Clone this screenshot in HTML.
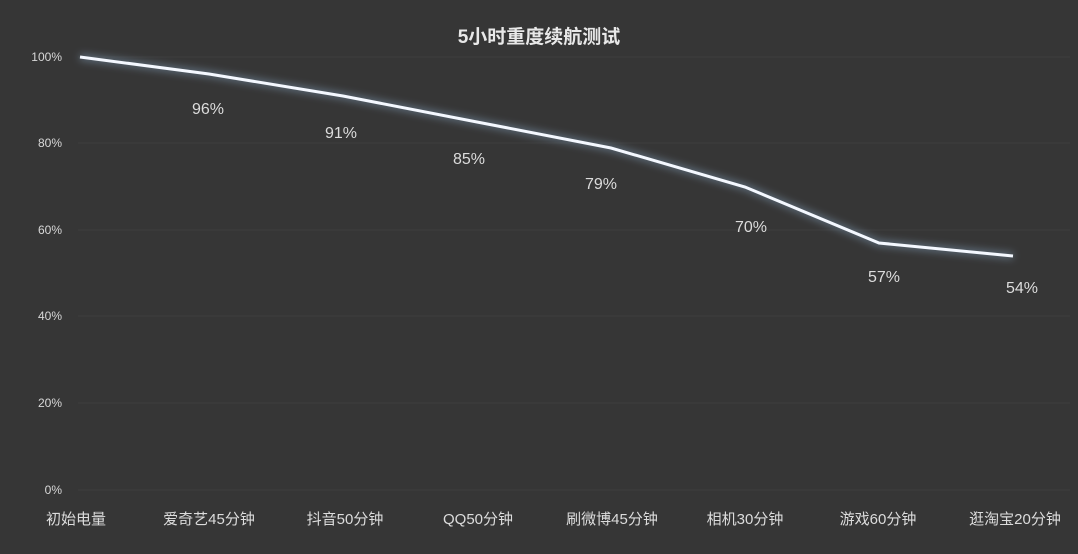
<!DOCTYPE html><html><head><meta charset="utf-8"><style>
body{margin:0;background:#363636;}
svg{display:block}
text{font-family:"Liberation Sans","Noto Sans CJK SC",sans-serif;}
</style></head><body>
<svg width="1078" height="554" viewBox="0 0 1078 554">
<rect width="1078" height="554" fill="#363636"/>
<defs><filter id="g" x="-10%" y="-50%" width="120%" height="200%"><feGaussianBlur stdDeviation="4"/></filter></defs>
<text x="539" y="43" text-anchor="middle" fill="#e8e8e8" font-size="19" font-weight="bold">5小时重度续航测试</text>
<g stroke="#3e3e3e" stroke-width="1">
<line x1="78" y1="57" x2="1070" y2="57"/><line x1="78" y1="143" x2="1070" y2="143"/><line x1="78" y1="230" x2="1070" y2="230"/><line x1="78" y1="316" x2="1070" y2="316"/><line x1="78" y1="403" x2="1070" y2="403"/><line x1="78" y1="490" x2="1070" y2="490"/>
</g>
<g fill="#d8d8d8" font-size="12" text-anchor="end">
<text x="62" y="61">100%</text><text x="62" y="147">80%</text><text x="62" y="234">60%</text><text x="62" y="320">40%</text><text x="62" y="407">20%</text><text x="62" y="494">0%</text>
</g>
<polyline points="80,57 209,74 343,96 477,122 611,148 745,187 879,243 1013,256" fill="none" stroke="#8fb0d0" stroke-opacity="0.5" stroke-width="6" filter="url(#g)"/>
<polyline points="80,57 209,74 343,96 477,122 611,148 745,187 879,243 1013,256" fill="none" stroke="#f4f8ff" stroke-width="3"/>
<g fill="#dcdcdc" font-size="16" text-anchor="middle">
<text x="208" y="114">96%</text><text x="341" y="138">91%</text><text x="469" y="164">85%</text><text x="601" y="189">79%</text><text x="751" y="232">70%</text><text x="884" y="282">57%</text><text x="1022" y="293">54%</text>
</g>
<g fill="#dcdcdc" font-size="15" text-anchor="middle">
<text x="76" y="524">初始电量</text><text x="209" y="524">爱奇艺45分钟</text><text x="345" y="524">抖音50分钟</text><text x="478" y="524">QQ50分钟</text><text x="612" y="524">刷微博45分钟</text><text x="745" y="524">相机30分钟</text><text x="878" y="524">游戏60分钟</text><text x="1015" y="524">逛淘宝20分钟</text>
</g>
</svg></body></html>
